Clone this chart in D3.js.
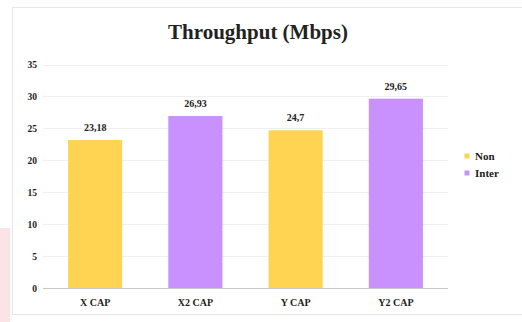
<!DOCTYPE html>
<html>
<head>
<meta charset="utf-8">
<script src="https://cdn.jsdelivr.net/npm/d3@7"></script>
<style>
  html, body { margin: 0; padding: 0; background: #fff; }
  svg { display: block; }
  text { font-family: "Liberation Serif", "Times New Roman", serif; font-weight: bold; fill: #222; }
</style>
</head>
<body>
<svg id="chart" width="522" height="322"></svg>
<script>
// Throughput per capture, two series
const categories = ["X CAP", "X2 CAP", "Y CAP", "Y2 CAP"];
const values = [23.18, 26.93, 24.7, 29.65];
const valueLabels = ["23,18", "26,93", "24,7", "29,65"];
const seriesOf = ["Non", "Inter", "Non", "Inter"];
const seriesNames = ["Non", "Inter"];
const seriesColors = ["#FFD452", "#C991FD"];
const yTicks = [0, 5, 10, 15, 20, 25, 30, 35];

const svg = d3.select("#chart");
const W = 522, H = 322;
const plot = { left: 43, right: 448, top: 64.5, bottom: 288 };

// page decoration: left accent strip and chart frame
svg.append("rect").attr("x", 0).attr("y", 228).attr("width", 10).attr("height", H - 228)
  .attr("fill", "#fbe3e6");
svg.append("rect").attr("x", 12.5).attr("y", 7.5).attr("width", W).attr("height", 307)
  .attr("fill", "#fff").attr("stroke", "#e6e6e6").attr("stroke-width", 1);

const x = d3.scaleBand().domain(categories).range([plot.left, plot.right])
  .paddingInner(0.46).paddingOuter(0.25);
const y = d3.scaleLinear().domain([0, 35]).range([plot.bottom, plot.top]);
const color = d3.scaleOrdinal().domain(seriesNames).range(seriesColors);

// gridlines
svg.append("g").selectAll("line").data(yTicks.filter(d => d > 0)).join("line")
  .attr("x1", plot.left).attr("x2", plot.right)
  .attr("y1", d => Math.round(y(d)) + 0.5).attr("y2", d => Math.round(y(d)) + 0.5)
  .attr("stroke", "#efefef");

// y axis labels
const yAxis = d3.axisLeft(y).tickValues(yTicks).tickSize(0).tickPadding(6);
const gy = svg.append("g").attr("transform", `translate(${plot.left},0)`).call(yAxis);
gy.select(".domain").remove();
gy.selectAll("text").attr("font-size", 9.5).attr("fill", "#222")
  .style("font-family", '"Liberation Serif", serif').style("font-weight", "bold");

// bars
svg.append("g").selectAll("rect").data(categories).join("rect")
  .attr("x", d => x(d)).attr("width", x.bandwidth())
  .attr("y", (d, i) => y(values[i]))
  .attr("height", (d, i) => y(0) - y(values[i]))
  .attr("fill", (d, i) => color(seriesOf[i]));

// value labels
svg.append("g").selectAll("text").data(categories).join("text")
  .attr("x", d => x(d) + x.bandwidth() / 2)
  .attr("y", (d, i) => y(values[i]) - 9)
  .attr("text-anchor", "middle").attr("font-size", 10)
  .text((d, i) => valueLabels[i]);

// x axis
const xAxis = d3.axisBottom(x).tickSize(0).tickPadding(11);
const gx = svg.append("g").attr("transform", `translate(0,${plot.bottom})`).call(xAxis);
gx.select(".domain").attr("stroke", "#c8c8c8").attr("d", `M${plot.left},0.5H${plot.right}`);
gx.selectAll("text").attr("font-size", 10).attr("fill", "#222")
  .style("font-family", '"Liberation Serif", serif').style("font-weight", "bold");

// title
svg.append("text").attr("x", 258).attr("y", 39).attr("text-anchor", "middle")
  .attr("font-size", 21).text("Throughput (Mbps)");

// legend
const lg = svg.append("g").selectAll("g").data(seriesNames).join("g")
  .attr("transform", (d, i) => `translate(467,${156 + i * 17})`);
lg.append("rect").attr("x", -2.5).attr("y", -2.5).attr("width", 5).attr("height", 5)
  .attr("fill", d => color(d));
lg.append("text").attr("x", 8).attr("dy", "0.35em").attr("font-size", 11).text(d => d);
</script>
</body>
</html>
